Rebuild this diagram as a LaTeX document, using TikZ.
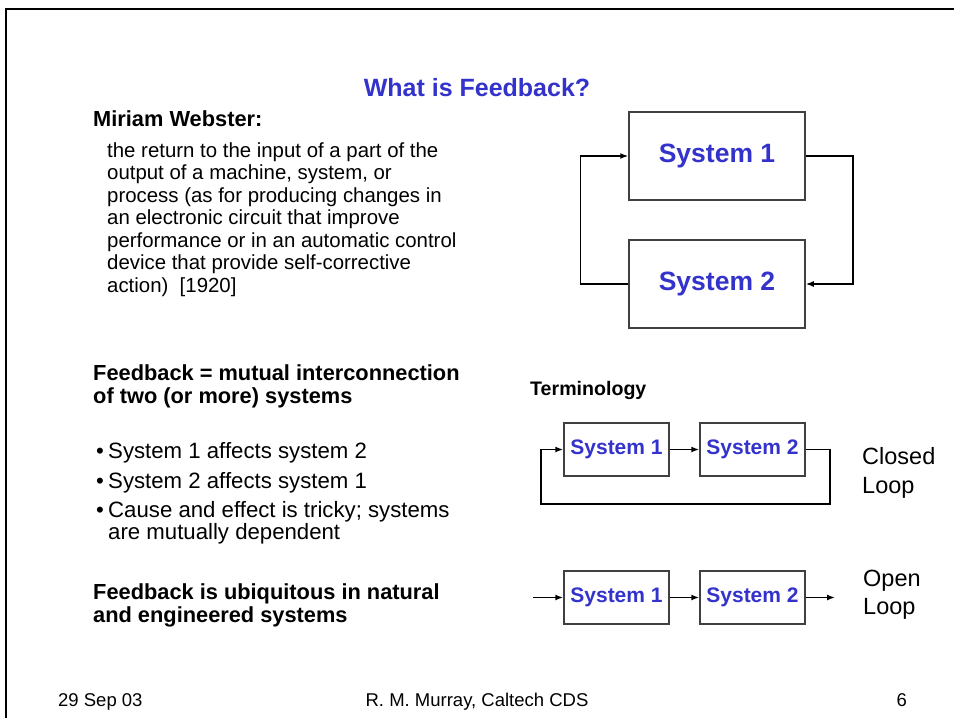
\documentclass[tikz,border=0pt]{standalone}
\usepackage{fontspec}
\setmainfont{Liberation Sans}
\usetikzlibrary{arrows.meta}

\definecolor{sysblue}{HTML}{3333CC}
\definecolor{boxgray}{HTML}{404040}

\begin{document}
\begin{tikzpicture}[
        x = 1pt, y = -1pt,
        >={Latex[length=8pt, width=6pt]},
        title/.style = {anchor = base, inner sep = 0pt, text = sysblue,
            font = \fontsize{25}{30}\selectfont\bfseries},
        heading/.style = {anchor = base west, inner sep = 0pt, align = left,
            font = \fontsize{21.8}{23}\selectfont\bfseries},
        body/.style = {anchor = base west, inner sep = 0pt, align = left,
            font = \fontsize{20.4}{22.5}\selectfont},
        item/.style = {anchor = base west, inner sep = 0pt, align = left,
            font = \fontsize{22.2}{22}\selectfont},
        footer/.style = {anchor = base, inner sep = 0pt,
            font = \fontsize{18.5}{22}\selectfont},
        sysbox/.style = {draw = boxgray, line width = 1.5pt, fill = white,
            text = sysblue, inner sep = 0pt},
        link/.style = {->, line width = 1.5pt}
    ]

        % Page size of the slide.
        \useasboundingbox (0, 0) rectangle (954, 718);

        % Frame along the top and left edges.
        \draw[line width = 2.5pt] (6, 718) -- (6, 9) -- (954, 9);

        % Slide title.
        \node[title] (title) at (477, 96) {What is Feedback?};

        % Dictionary definition on the left (multi-line nodes sit on their last line).
        \node[heading] (defhead) at (93, 126) {Miriam Webster:};
        \node[body] (deftext) at (107, 292) {the return to the input of a part of the\\
            output of a machine, system, or\\
            process (as for producing changes in\\
            an electronic circuit that improve\\
            performance or in an automatic control\\
            device that provide self-corrective\\
            action)\ \ [1920]};

        % Mutual interconnection and its bullets.
        \node[heading] (mutual) at (93, 403)
            {Feedback = mutual interconnection\\of two (or more) systems};
        \node[item] (dot1) at (96, 458) {\textbullet};
        \node[item] (item1) at (108, 458) {System 1 affects system 2};
        \node[item] (dot2) at (96, 488) {\textbullet};
        \node[item] (item2) at (108, 488) {System 2 affects system 1};
        \node[item] (dot3) at (96, 517) {\textbullet};
        \node[item] (item3) at (108, 539)
            {Cause and effect is tricky; systems\\are mutually dependent};

        \node[heading] (ubiq) at (93, 622)
            {Feedback is ubiquitous in natural\\and engineered systems};

        % Two systems in a feedback loop.
        \node[sysbox, minimum width = 176pt, minimum height = 88pt,
            font = \fontsize{26.5}{30}\selectfont\bfseries] (sysA) at (717, 156) {System 1};
        \node[sysbox, minimum width = 176pt, minimum height = 88pt,
            font = \fontsize{26.5}{30}\selectfont\bfseries] (sysB) at (717, 284) {System 2};
        \draw[link] (sysA.east) -- ++(47, 0) |- (sysB.east);
        \draw[link] (sysB.west) -- ++(-48, 0) |- (sysA.west);

        % Terminology: closed loop.
        \node[heading, font = \fontsize{19.6}{24}\selectfont\bfseries] (terms) at (530, 395) {Terminology};
        \node[sysbox, minimum width = 105pt, minimum height = 53pt,
            font = \fontsize{21}{24}\selectfont\bfseries] (clA) at (616.5, 449.5) {System 1};
        \node[sysbox, minimum width = 105pt, minimum height = 53pt,
            font = \fontsize{21}{24}\selectfont\bfseries] (clB) at (752.5, 449.5) {System 2};
        \coordinate (clback) at (541, 504);
        \draw[link] (clA) -- (clB);
        \draw[link] (clB.east) -- ++(24, 0) |- (clback) |- (clA.west);
        \node[body, font = \fontsize{23.5}{29}\selectfont] (closed) at (862, 493) {Closed\\Loop};

        % Terminology: open loop.
        \node[sysbox, minimum width = 105pt, minimum height = 53pt,
            font = \fontsize{21}{24}\selectfont\bfseries] (olA) at (616.5, 597.5) {System 1};
        \node[sysbox, minimum width = 105pt, minimum height = 53pt,
            font = \fontsize{21}{24}\selectfont\bfseries] (olB) at (752.5, 597.5) {System 2};
        \coordinate (olin) at (533, 597.5);
        \coordinate (olout) at (835, 597.5);
        \draw[link] (olin) -- (olA);
        \draw[link] (olA) -- (olB);
        \draw[link] (olB) -- (olout);
        \node[body, font = \fontsize{23.5}{28}\selectfont] (open) at (863, 614) {Open\\Loop};

        % Footer line.
        \node[footer, anchor = base west] (date) at (58, 706) {29 Sep 03};
        \node[footer] (author) at (477, 706) {R. M. Murray, Caltech CDS};
        \node[footer, anchor = base east] (page) at (907, 706) {6};
    \end{tikzpicture}
\end{document}
